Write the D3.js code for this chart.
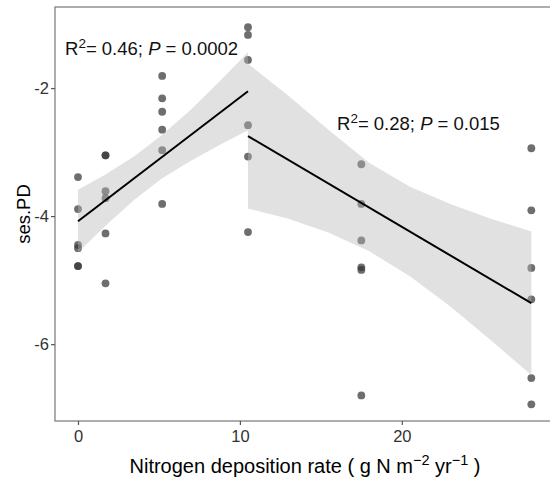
<!DOCTYPE html>
<html>
<head>
<meta charset="utf-8">
<script src="https://cdn.jsdelivr.net/npm/d3@7"></script>
<style>
  html, body { margin: 0; padding: 0; background: #fff; }
  svg { display: block; font-family: "Liberation Sans", Arial, sans-serif; }
</style>
</head>
<body>
<div id="chart"></div>
<script>
// ---- data ----
const ptX = [0,0,0,0,0,0,
             1.7,1.7,1.7,1.7,1.7,1.7,
             5.2,5.2,5.2,5.2,5.2,5.2,
             10.5,10.5,10.5,10.5,10.5,10.5,
             17.5,17.5,17.5,17.5,17.5,17.5,
             28,28,28,28,28,28];
const ptY = [-3.39,-3.89,-4.45,-4.50,-4.78,-4.78,
             -3.05,-3.05,-3.61,-3.72,-4.27,-5.05,
             -1.81,-2.16,-2.37,-2.65,-2.97,-3.81,
             -1.05,-1.17,-1.56,-2.58,-3.07,-4.25,
             -3.19,-3.81,-4.38,-4.80,-4.84,-6.80,
             -2.94,-3.91,-4.81,-5.30,-6.53,-6.94];

// fitted line 1 and its confidence band
const fit1X = [0, 10.5];
const fit1Y = [-4.08, -2.05];
const band1X  = [0, 1.7, 3.5, 5.2, 7, 8.8, 10.5];
const band1Lo = [-4.57, -4.15, -3.74, -3.41, -3.13, -2.88, -2.66];
const band1Hi = [-3.59, -3.35, -3.06, -2.73, -2.33, -1.88, -1.44];

// fitted line 2 and its confidence band
const fit2X = [10.5, 28];
const fit2Y = [-2.75, -5.36];
const band2X  = [10.5, 13, 15.5, 18, 20.5, 23, 25.5, 28];
const band2Lo = [-3.88, -4.04, -4.26, -4.55, -4.94, -5.41, -5.94, -6.48];
const band2Hi = [-1.62, -2.12, -2.66, -3.17, -3.54, -3.81, -4.04, -4.24];

const xTicks = [0, 10, 20];
const yTicks = [-2, -4, -6];

// ---- layout ----
const W = 550, H = 481;
const panel = {left: 55, right: 554, top: 7, bottom: 421};

const x = d3.scaleLinear().domain([-1.42, 29.4]).range([panel.left, panel.right]);
const y = d3.scaleLinear().domain([-7.2, -0.734]).range([panel.bottom, panel.top]);

const svg = d3.select("#chart").append("svg")
  .attr("width", W).attr("height", H);

svg.append("defs").append("clipPath").attr("id", "clip")
  .append("rect")
  .attr("x", panel.left).attr("y", panel.top)
  .attr("width", panel.right - panel.left).attr("height", panel.bottom - panel.top);

const plot = svg.append("g").attr("clip-path", "url(#clip)");

// points
plot.selectAll("circle.pt")
  .data(ptX.map((d, i) => ({x: d, y: ptY[i]})))
  .join("circle")
  .attr("class", "pt")
  .attr("cx", d => x(d.x))
  .attr("cy", d => y(d.y))
  .attr("r", 3.9)
  .attr("fill", "#363636")
  .attr("fill-opacity", 0.72);

// bands
const area = d3.area().x(d => x(d.x)).y0(d => y(d.lo)).y1(d => y(d.hi));
[[band1X, band1Lo, band1Hi], [band2X, band2Lo, band2Hi]].forEach(([bx, lo, hi]) => {
  plot.append("path")
    .datum(bx.map((d, i) => ({x: d, lo: lo[i], hi: hi[i]})))
    .attr("d", area)
    .attr("fill", "#b8b8b8")
    .attr("fill-opacity", 0.42);
});

// fitted lines
const line = d3.line().x(d => x(d.x)).y(d => y(d.y));
[[fit1X, fit1Y], [fit2X, fit2Y]].forEach(([fx, fy]) => {
  plot.append("path")
    .datum(fx.map((d, i) => ({x: d, y: fy[i]})))
    .attr("d", line)
    .attr("fill", "none")
    .attr("stroke", "#000")
    .attr("stroke-width", 2);
});

// panel border
svg.append("rect")
  .attr("x", panel.left).attr("y", panel.top)
  .attr("width", panel.right - panel.left).attr("height", panel.bottom - panel.top)
  .attr("fill", "none").attr("stroke", "#8a8a8a").attr("stroke-width", 1.4);

// axes
const xAxis = svg.append("g")
  .attr("transform", `translate(0,${panel.bottom})`)
  .call(d3.axisBottom(x).tickValues(xTicks).tickSize(4).tickPadding(5).tickFormat(d3.format("d")));
const yAxis = svg.append("g")
  .attr("transform", `translate(${panel.left},0)`)
  .call(d3.axisLeft(y).tickValues(yTicks).tickSize(4).tickPadding(2).tickFormat(d => d3.format("d")(d).replace("\u2212", "-")));
[xAxis, yAxis].forEach(a => {
  a.select(".domain").remove();
  a.selectAll(".tick line").attr("stroke", "#555").attr("stroke-width", 1.2);
  a.selectAll(".tick text").attr("fill", "#333").style("font-size", "16.5px")
    .style("font-family", '"Liberation Sans", Arial, sans-serif');
});

// axis titles
svg.append("text")
  .attr("transform", `translate(30,${(panel.top + panel.bottom) / 2}) rotate(-90)`)
  .attr("text-anchor", "middle")
  .style("font-size", "18.5px")
  .attr("fill", "#000")
  .text("ses.PD");

const xt = svg.append("text")
  .attr("x", 305)
  .attr("y", 473)
  .attr("text-anchor", "middle")
  .style("font-size", "20px")
  .attr("fill", "#000");
xt.append("tspan").text("Nitrogen deposition rate ( g N m");
xt.append("tspan").attr("dy", -8).style("font-size", "14.5px").text("\u22122");
xt.append("tspan").attr("dy", 8).text(" yr");
xt.append("tspan").attr("dy", -8).style("font-size", "14.5px").text("\u22121");
xt.append("tspan").attr("dy", 8).text(" )");

// annotations
function annot(px, py, r2, p) {
  const t = svg.append("text").attr("x", px).attr("y", py)
    .style("font-size", "18.5px").attr("fill", "#111");
  t.append("tspan").text("R");
  t.append("tspan").attr("dy", -7.5).style("font-size", "13.5px").text("2");
  t.append("tspan").attr("dy", 7.5).text("= " + r2 + "; ");
  t.append("tspan").style("font-style", "italic").text("P");
  t.append("tspan").text(" = " + p);
}
annot(65, 55, "0.46", "0.0002");
annot(337, 130, "0.28", "0.015");
</script>
</body>
</html>
